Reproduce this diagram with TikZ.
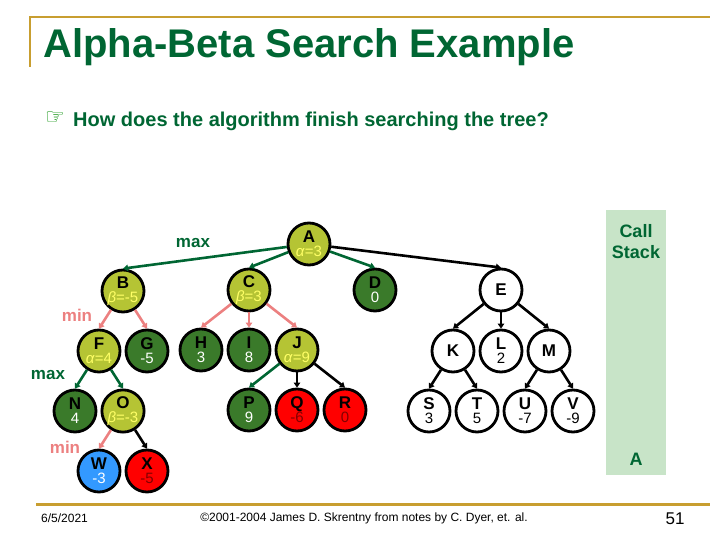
\documentclass[tikz,border=0pt]{standalone}
\usepackage{fontspec}
\setmainfont{Liberation Sans}
\newfontfamily\handfont{DejaVu Sans}
\usetikzlibrary{arrows.meta}
\definecolor{titlegreen}{RGB}{0,102,51}
\definecolor{rulegold}{RGB}{200,158,48}
\definecolor{edgepink}{RGB}{236,128,128}
\definecolor{activefill}{RGB}{181,196,52}
\definecolor{donefill}{RGB}{58,122,42}
\definecolor{bestfill}{RGB}{51,153,255}
\definecolor{boundyellow}{RGB}{255,255,102}
\definecolor{prunedtext}{RGB}{130,0,0}
\definecolor{stackfill}{RGB}{200,228,200}

\begin{document}
\begin{tikzpicture}[x=1pt,y=-1pt,
    treenode/.style={circle, draw=black, line width=2.8pt, minimum size=42pt, inner sep=0pt,
      align=center, font=\fontsize{17}{14}\selectfont},
    whitenode/.style={treenode, fill=white},
    activenode/.style={treenode, fill=activefill},
    donenode/.style={treenode, fill=donefill},
    prunednode/.style={treenode, fill=red},
    bestnode/.style={treenode, fill=bestfill},
    treeedge/.style={line width=2.6pt, -{Triangle[length=5pt,width=6.5pt]}},
    gedge/.style={treeedge, draw=titlegreen, fill=titlegreen},
    pedge/.style={treeedge, draw=edgepink, fill=edgepink},
    kedge/.style={treeedge, draw=black, fill=black},
    levelmax/.style={font=\fontsize{17}{17}\selectfont\bfseries, text=titlegreen, inner sep=0pt},
    levelmin/.style={font=\fontsize{17}{17}\selectfont\bfseries, text=edgepink, inner sep=0pt},
    footnote/.style={font=\fontsize{12}{12}\selectfont, inner sep=0pt}]
    \useasboundingbox (0,0) rectangle (720,540);
    \newcommand{\bnd}[1]{{\fontsize{15}{14}\selectfont\color{boundyellow}#1}}
    \newcommand{\wval}[1]{{\fontsize{15}{14}\selectfont\color{white}#1}}
    \newcommand{\rval}[1]{{\fontsize{15}{14}\selectfont\color{prunedtext}#1}}
    \newcommand{\kval}[1]{{\fontsize{15}{14}\selectfont#1}}

    % frame rules
    \draw [rulegold, line width=2.5pt] (30,67) -- (30,17) -- (710,17);
    \draw [rulegold, line width=3pt] (36,504) -- (710,504);

    % title and bullet
    \node [anchor=base west, inner sep=0pt, font=\fontsize{40}{40}\selectfont\bfseries, text=titlegreen]
      (title) at (43,58) {Alpha-Beta Search Example};
    \node [anchor=base west, inner sep=0pt, font=\handfont\fontsize{22}{22}\selectfont, text=green!55!black]
      (hand) at (45,125) {☞};
    \node [anchor=base west, inner sep=0pt, font=\fontsize{20}{20}\selectfont\bfseries, text=titlegreen]
      (question) at (73,127) {How does the algorithm finish searching the tree?};

    % call stack
    \fill [stackfill] (606,210) rectangle (666,475);
    \node [align=center, font=\fontsize{18}{21}\selectfont\bfseries, text=titlegreen] (stacktitle) at (636,242) {Call\\Stack};
    \node [font=\fontsize{18}{18}\selectfont\bfseries, text=titlegreen] (stacktop) at (636,459) {A};

    % level labels
    \node [levelmax] (maxA) at (193,243) {max};
    \node [levelmin] (minB) at (77,315) {min};
    \node [levelmax] (maxF) at (48,375) {max};
    \node [levelmin] (minO) at (65,447) {min};

    % tree nodes
    \node [activenode] (A) at (309,244) {\textbf{A}\\\bnd{\textit{α}=3}};
    \node [activenode] (B) at (123,291) {\textbf{B}\\\bnd{\textit{β}=-5}};
    \node [activenode] (C) at (249,290) {\textbf{C}\\\bnd{\textit{β}=3}};
    \node [donenode] (D) at (375,290) {\textbf{D}\\\wval{0}};
    \node [whitenode] (E) at (501,290) {\textbf{E}};
    \node [activenode] (F) at (99,351) {\textbf{F}\\\bnd{\textit{α}=4}};
    \node [donenode] (G) at (147,351) {\textbf{G}\\\wval{-5}};
    \node [donenode] (H) at (201,350) {\textbf{H}\\\wval{3}};
    \node [donenode] (I) at (249,350) {\textbf{I}\\\wval{8}};
    \node [activenode] (J) at (297,350) {\textbf{J}\\\bnd{\textit{α}=9}};
    \node [whitenode] (K) at (453,351) {\textbf{K}};
    \node [whitenode] (L) at (501,351) {\textbf{L}\\\kval{2}};
    \node [whitenode] (M) at (549,351) {\textbf{M}};
    \node [donenode] (N) at (75,411) {\textbf{N}\\\wval{4}};
    \node [activenode] (O) at (123,411) {\textbf{O}\\\bnd{\textit{β}=-3}};
    \node [donenode] (P) at (249,410) {\textbf{P}\\\wval{9}};
    \node [prunednode] (Q) at (297,410) {\textbf{Q}\\\rval{-6}};
    \node [prunednode] (R) at (345,410) {\textbf{R}\\\rval{0}};
    \node [whitenode] (S) at (429,411) {\textbf{S}\\\kval{3}};
    \node [whitenode] (T) at (477,411) {\textbf{T}\\\kval{5}};
    \node [whitenode] (U) at (525,411) {\textbf{U}\\\kval{-7}};
    \node [whitenode] (V) at (573,411) {\textbf{V}\\\kval{-9}};
    \node [bestnode] (W) at (99,471) {\textbf{W}\\\wval{-3}};
    \node [prunednode] (X) at (147,471) {\textbf{X}\\\rval{-5}};

    % edges
    \draw [gedge] (A) -- (B.north);
    \draw [gedge] (A) -- (C.north);
    \draw [gedge] (A) -- (D.north);
    \draw [kedge] (A) -- (E.north);
    \draw [pedge] (B) -- (F.north);
    \draw [pedge] (B) -- (G.north);
    \draw [pedge] (C) -- (H.north);
    \draw [pedge] (C) -- (I.north);
    \draw [pedge] (C) -- (J.north);
    \draw [kedge] (E) -- (K.north);
    \draw [kedge] (E) -- (L.north);
    \draw [kedge] (E) -- (M.north);
    \draw [gedge] (F) -- (N.north);
    \draw [gedge] (F) -- (O.north);
    \draw [gedge] (J) -- (P.north);
    \draw [kedge] (J) -- (Q.north);
    \draw [kedge] (J) -- (R.north);
    \draw [kedge] (K) -- (S.north);
    \draw [kedge] (K) -- (T.north);
    \draw [kedge] (M) -- (U.north);
    \draw [kedge] (M) -- (V.north);
    \draw [pedge] (O) -- (W.north);
    \draw [kedge] (O) -- (X.north);

    % footer
    \node [footnote, anchor=west] (date) at (41,518) {6/5/2021};
    \node [footnote] (credit) at (364,518) {©2001-2004 James D. Skrentny from notes by C. Dyer, et. al.};
    \node [font=\fontsize{17}{17}\selectfont, inner sep=0pt] (pageno) at (675,519) {51};
\end{tikzpicture}
\end{document}
